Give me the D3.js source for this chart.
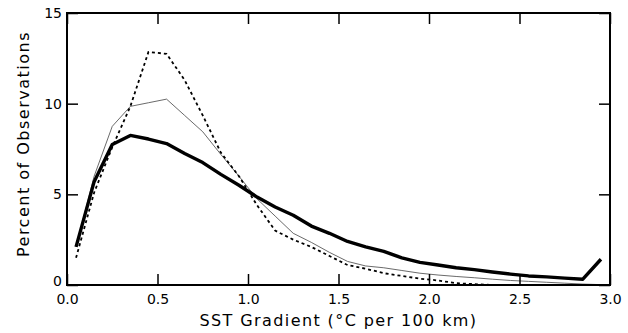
<!DOCTYPE html>
<html>
<head>
<meta charset="utf-8">
<script src="https://cdn.jsdelivr.net/npm/d3@7"></script>
<style>
  body { margin: 0; background: #fff; }
  text { font-family: "DejaVu Sans", sans-serif; fill: #000; }
</style>
</head>
<body>
<svg width="628" height="333"></svg>
<script>
// bin centres of the SST gradient histogram
var gradient = [0.05, 0.15, 0.25, 0.35, 0.45, 0.55, 0.65, 0.75, 0.85, 0.95,
                1.05, 1.15, 1.25, 1.35, 1.45, 1.55, 1.65, 1.75, 1.85, 1.95,
                2.05, 2.15, 2.25, 2.35, 2.45, 2.55, 2.65, 2.75, 2.85, 2.95];

// thick solid curve
var thickPct = [2.1, 5.7, 7.75, 8.25, 8.05, 7.8, 7.25, 6.75, 6.1, 5.5,
                4.85, 4.3, 3.85, 3.25, 2.85, 2.4, 2.1, 1.85, 1.5, 1.25,
                1.1, 0.95, 0.85, 0.72, 0.6, 0.5, 0.45, 0.38, 0.32, 1.42];

// thin solid curve
var thinPct = [2.1, 6.0, 8.75, 9.85, 10.05, 10.25, 9.35, 8.45, 7.2, 6.0,
               4.75, 3.8, 2.85, 2.35, 1.8, 1.3, 1.05, 0.95, 0.8, 0.65,
               0.55, 0.47, 0.4, 0.32, 0.25, 0.2, 0.15, 0.1, 0.05, 0.02];

// dashed curve
var dashPct = [1.5, 5.1, 7.6, 9.85, 12.85, 12.75, 11.3, 9.35, 7.3, 6.0,
               4.4, 3.0, 2.5, 2.1, 1.6, 1.1, 0.9, 0.65, 0.5, 0.35,
               0.25, 0.1, 0.05, 0, 0, 0, 0, 0, 0, 0];

var xTicks = [0, 0.5, 1.0, 1.5, 2.0, 2.5, 3.0];
var yTicks = [0, 5, 10, 15];

var svg = d3.select('svg');
var padding = {t: 13, r: 18, b: 48, l: 67};
var width = 628 - padding.l - padding.r;
var height = 333 - padding.t - padding.b;

var g = svg.append('g')
    .attr('transform', 'translate(' + [padding.l, padding.t] + ')');

var xScale = d3.scaleLinear().domain([0, 3]).range([0, width]);
var yScale = d3.scaleLinear().domain([0, 15]).range([height, 0]);

var line = d3.line()
    .x(function(d) { return xScale(d[0]); })
    .y(function(d) { return yScale(d[1]); });

function pairs(vals) {
    return gradient.map(function(x, i) { return [x, vals[i]]; });
}

g.append('clipPath').attr('id', 'clip')
    .append('rect').attr('width', width).attr('height', height);

var curves = g.append('g').attr('clip-path', 'url(#clip)');

curves.append('path')
    .attr('d', line(pairs(thinPct)))
    .attr('fill', 'none')
    .attr('stroke', '#444')
    .attr('stroke-width', 0.8);

curves.append('path')
    .attr('d', line(pairs(dashPct)))
    .attr('fill', 'none')
    .attr('stroke', '#000')
    .attr('stroke-width', 1.8)
    .attr('stroke-dasharray', '3,3');

curves.append('path')
    .attr('d', line(pairs(thickPct)))
    .attr('fill', 'none')
    .attr('stroke', '#000')
    .attr('stroke-width', 3.4)
    .attr('stroke-linejoin', 'round');

// frame with inward ticks on all four sides
var tickLen = 11;
function styleAxis(sel) {
    sel.select('.domain').remove();
    sel.selectAll('.tick line').attr('stroke', '#000').attr('stroke-width', 1.5);
    sel.selectAll('.tick text').style('font-size', '14px');
}

g.append('g')
    .attr('transform', 'translate(0,' + height + ')')
    .call(d3.axisBottom(xScale).tickValues(xTicks).tickFormat(d3.format('.1f'))
        .tickSizeInner(-tickLen).tickPadding(9))
    .call(styleAxis);

g.append('g')
    .call(d3.axisTop(xScale).tickValues(xTicks).tickSizeInner(-tickLen).tickFormat(''))
    .call(styleAxis);

var yAxisG = g.append('g')
    .call(d3.axisLeft(yScale).tickValues(yTicks).tickFormat(d3.format('d'))
        .tickSizeInner(-tickLen).tickPadding(5))
    .call(styleAxis);

// the zero label sits a little above the corner, clear of "0.0"
yAxisG.selectAll('.tick text')
    .filter(function(d) { return d === 0; })
    .attr('y', -4);

g.append('g')
    .attr('transform', 'translate(' + width + ',0)')
    .call(d3.axisRight(yScale).tickValues(yTicks).tickSizeInner(-tickLen).tickFormat(''))
    .call(styleAxis);

g.append('rect')
    .attr('width', width)
    .attr('height', height)
    .attr('fill', 'none')
    .attr('stroke', '#000')
    .attr('stroke-width', 2);

// axis titles
svg.append('text')
    .attr('x', padding.l + width / 2)
    .attr('y', 326)
    .attr('text-anchor', 'middle')
    .style('font-size', '16px')
    .style('letter-spacing', '1.4px')
    .text('SST Gradient (°C per 100 km)');

svg.append('text')
    .attr('transform', 'translate(29,144) rotate(-90)')
    .attr('text-anchor', 'middle')
    .style('font-size', '16px')
    .style('letter-spacing', '1.5px')
    .text('Percent of Observations');
</script>
</body>
</html>
